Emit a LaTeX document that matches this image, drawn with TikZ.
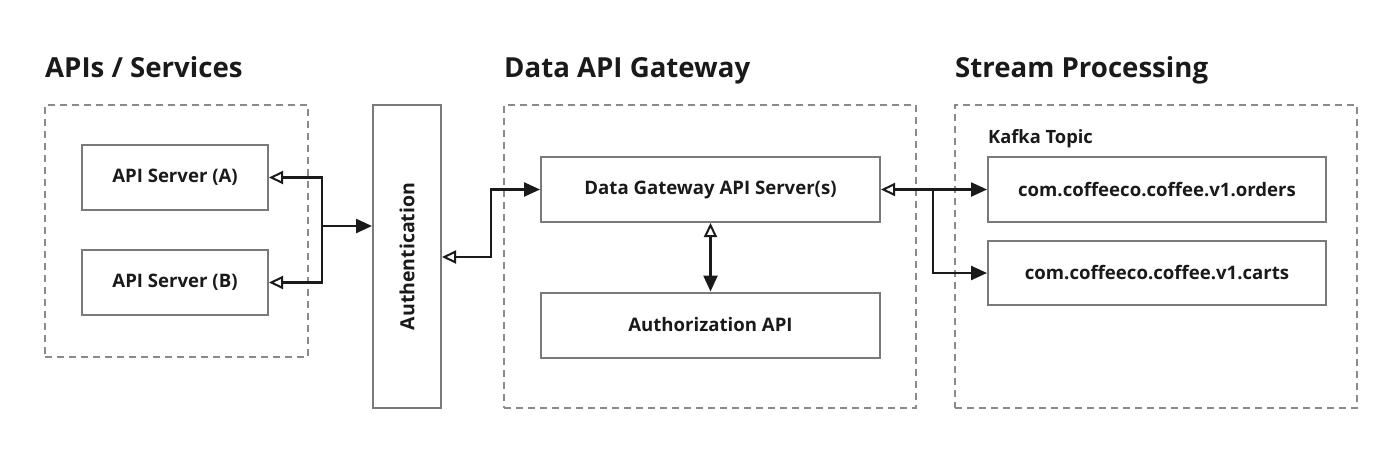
\documentclass[tikz,border=0pt]{standalone}
\usepackage{fontspec}
\setmainfont{Open Sans}
\usetikzlibrary{arrows.meta}
\definecolor{boxgray}{HTML}{7A7A7A}
\definecolor{dashgray}{HTML}{8A8A8A}
\definecolor{ink}{HTML}{1A1A1A}
\tikzset{
  box/.style={draw=boxgray, line width=2pt, fill=white, inner sep=0pt, text=ink, font=\fontsize{18.6}{22}\selectfont\bfseries},
  group/.style={draw=dashgray, line width=1.8pt, dash pattern=on 7pt off 5pt, inner sep=0pt},
  title/.style={anchor=base west, inner sep=0pt, text=ink, font=\fontsize{27.6}{32}\selectfont\bfseries},
  conn/.style={draw=ink, line width=2.4pt},
  otip/.tip={Triangle[open, length=14pt, width=13pt, line width=2pt]},
  ftip/.tip={Triangle[length=16pt, width=14pt]}
}
\begin{document}
\begin{tikzpicture}[x=1pt, y=-1pt]
\useasboundingbox[fill=white] (0,0) rectangle (1400,450);
% group frames
\node[group, minimum width=263pt, minimum height=252pt] (g1) at (176.5,231) {};
\node[group, minimum width=412pt, minimum height=303pt] (g2) at (710,256.5) {};
\node[group, minimum width=402pt, minimum height=303pt] (g3) at (1156,256.5) {};
% titles
\node[title] (t1) at (45,77) {APIs / Services};
\node[title] (t2) at (504,77) {Data API Gateway};
\node[title] (t3) at (955,77) {Stream Processing};
\node[anchor=base west, inner sep=0pt, text=ink, font=\fontsize{18.3}{22}\selectfont\bfseries] (kt) at (988,143) {Kafka Topic};
% boxes
\node[box, minimum width=186pt, minimum height=65pt] (A) at (175,177.5) {API Server (A)};
\node[box, minimum width=186pt, minimum height=65pt] (B) at (175,282.5) {API Server (B)};
\node[box, minimum width=68pt, minimum height=303pt] (auth) at (407,256.5) {};
\node[text=ink, font=\fontsize{19.5}{23}\selectfont\bfseries, rotate=90, inner sep=0pt] (authl) at (auth.center) {Authentication};
\node[box, minimum width=339pt, minimum height=65pt] (dg) at (710.5,189.5) {Data Gateway API Server(s)};
\node[box, minimum width=339pt, minimum height=65pt] (az) at (710.5,325) {Authorization API};
\node[box, minimum width=338pt, minimum height=65pt] (ord) at (1157,189.5) {com.coffeeco.coffee.v1.orders};
\node[box, minimum width=338pt, minimum height=64pt] (crt) at (1157,273) {com.coffeeco.coffee.v1.carts};
% connectors
\coordinate (j1) at (322,226);
\draw[conn, -otip] (j1) |- (A.east);
\draw[conn, -otip] (j1) |- (B.east);
\draw[conn, -ftip] (j1) -- (j1 -| auth.west);
\coordinate (j2) at (491,257);
\draw[conn, otip-ftip] (j2 -| auth.east) -- (j2) |- (dg.west);
\draw[conn, otip-ftip] (dg.south) -- (az.north);
\draw[conn, otip-ftip] (dg.east) -- (ord.west);
\coordinate (j3) at (933,189.5);
\draw[conn, -ftip] (j3) |- (crt.west);
\end{tikzpicture}
\end{document}
